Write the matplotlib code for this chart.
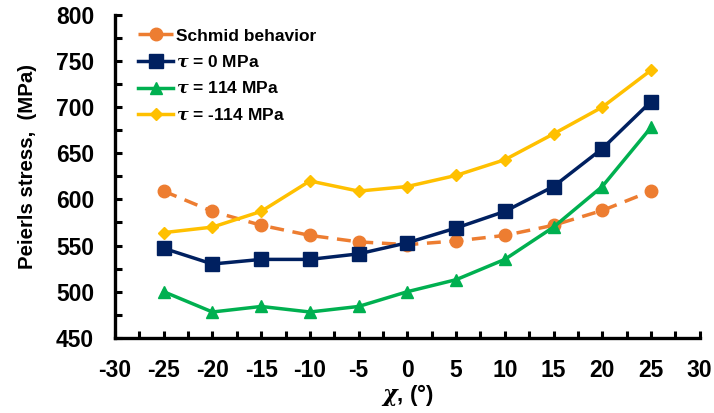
import matplotlib as mpl
import matplotlib.pyplot as plt
from matplotlib.ticker import MultipleLocator

mpl.rcParams.update({
    "font.family": "Liberation Sans",
    "font.weight": "bold",
    "axes.labelweight": "bold",
    "axes.unicode_minus": False,
    "mathtext.fontset": "dejavuserif",
})

chi = [-25, -20, -15, -10, -5, 0, 5, 10, 15, 20, 25]
schmid = [609, 587, 572, 561, 554, 551, 555, 561, 572, 588, 609]
tau_0 = [547, 530, 535, 535, 541, 553, 569, 587, 614, 655, 706]
tau_pos = [500, 478, 484, 478, 484, 500, 513, 535, 570, 614, 678]
tau_neg = [564, 570, 587, 620, 609, 614, 626, 643, 671, 700, 740]

fig = plt.figure(figsize=(7.14, 4.13), dpi=100)
ax = fig.add_axes([0.161, 0.182, 0.819, 0.782])

ax.plot(chi, schmid, color="#ED7D31", ls=(0, (4, 2.5)), lw=2.5, marker="o",
        ms=9, label="Schmid behavior")
ax.plot(chi, tau_0, color="#002060", lw=2.5, marker="s", ms=10,
        label=r"$\tau$ = 0 MPa")
ax.plot(chi, tau_pos, color="#00B050", lw=2.5, marker="^", ms=9,
        label=r"$\tau$ = 114 MPa")
ax.plot(chi, tau_neg, color="#FFC000", lw=2.5, marker="D", ms=6,
        label=r"$\tau$ = -114 MPa")

ax.set_xlim(-30, 30)
ax.set_ylim(450, 800)
ax.xaxis.set_major_locator(MultipleLocator(5))
ax.xaxis.set_minor_locator(MultipleLocator(2.5))
ax.yaxis.set_major_locator(MultipleLocator(50))
ax.yaxis.set_minor_locator(MultipleLocator(25))
ax.tick_params(which="both", direction="in", length=5, width=2.2, labelsize=16.5)
ax.tick_params(axis="x", pad=15)
ax.tick_params(axis="y", pad=15)
for s in ["top", "right"]:
    ax.spines[s].set_visible(False)
for s in ["left", "bottom"]:
    ax.spines[s].set_linewidth(2.4)

ax.set_xlabel(r"$\chi$, (°)", fontsize=16, labelpad=0)
ax.set_ylabel("Peierls stress,  (MPa)", fontsize=14.7)
ax.yaxis.set_label_coords(-0.133, 0.53)

ax.legend(loc="upper left", bbox_to_anchor=(0.025, 0.985), frameon=False,
          borderpad=0, handlelength=2.0, handletextpad=0.2, labelspacing=0.6,
          prop={"weight": "bold", "size": 12.5})

fig.savefig("out.png", dpi=100)
